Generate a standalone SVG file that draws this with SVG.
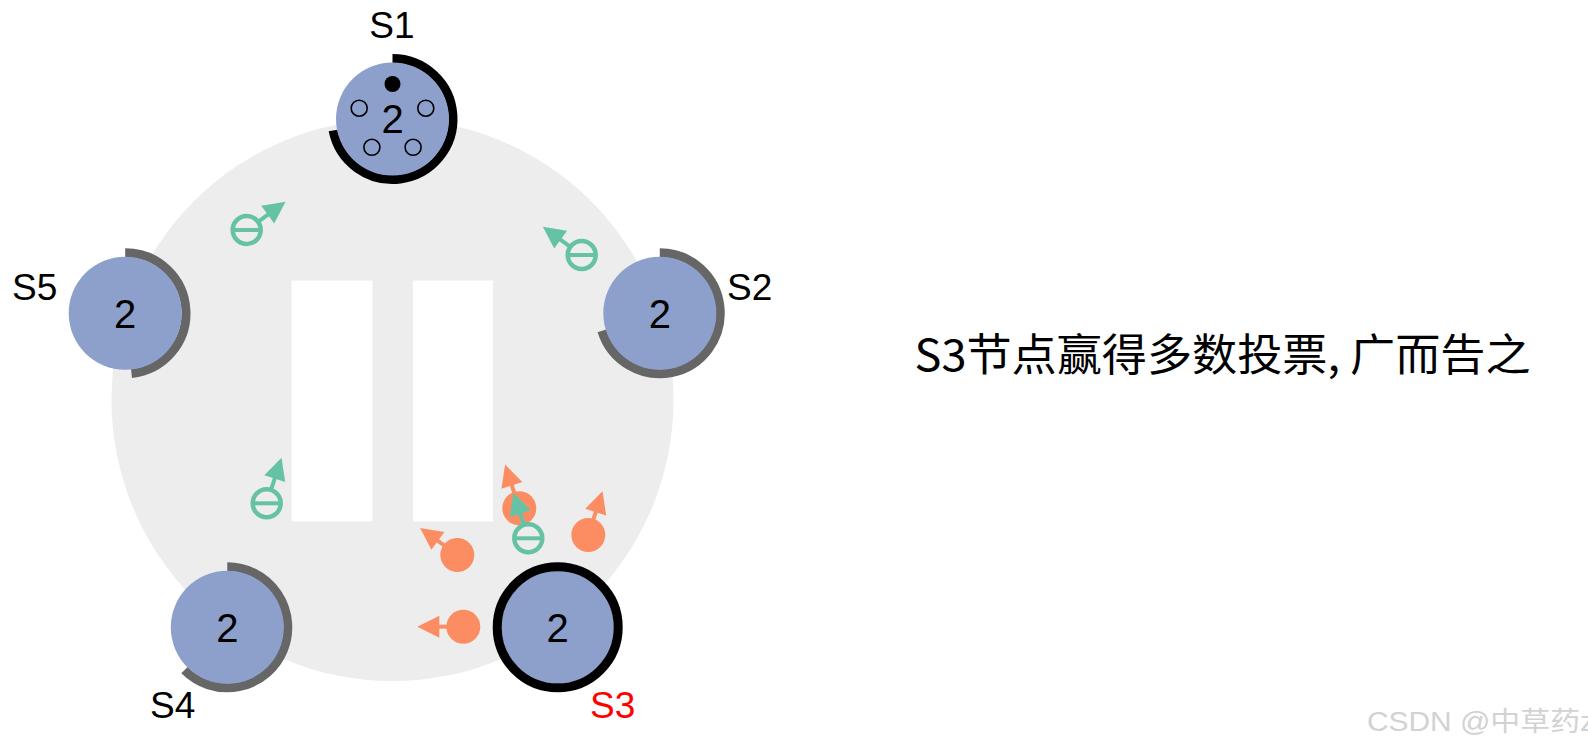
<svg xmlns="http://www.w3.org/2000/svg" xmlns:xlink="http://www.w3.org/1999/xlink" width="1588" height="749" viewBox="0 0 1588 749">
<style>
.node{fill:#8da0cb}
.arc{fill:none;stroke:#666;stroke-width:9}
.arcb{fill:none;stroke:#000;stroke-width:9}
.num{font-family:"Liberation Sans",Arial,sans-serif;font-size:40px;fill:#000;text-anchor:middle}
.lbl{font-family:"Liberation Sans",Arial,sans-serif;font-size:37px;fill:#000}
.vote{fill:none;stroke:#000;stroke-width:1.6}
.gc{fill:none;stroke:#66c2a5;stroke-width:4.5}
.gl{stroke:#66c2a5;stroke-width:4}
.oc{fill:#fc8d62}
</style>
<defs>
<g id="arrG"><line x1="14" y1="0" x2="28" y2="0" stroke="#66c2a5" stroke-width="4"/><polygon points="26,-11 48,0 26,11" fill="#66c2a5"/></g>
<g id="arrO"><line x1="0" y1="0" x2="26" y2="0" stroke="#fc8d62" stroke-width="4"/><polygon points="24,-11 46,0 24,11" fill="#fc8d62"/></g>
</defs>
<rect width="1588" height="749" fill="#fff"/>
<g id="ring">
<circle cx="392.5" cy="400" r="281" fill="#ededed"/>
<rect x="291.5" y="280.5" width="81" height="241" fill="#fff"/>
<rect x="413" y="280.5" width="80" height="241" fill="#fff"/>
</g>
<g id="S1">
<path class="arcb" d="M392.5,58.5 A60.5,60.5 0 1 1 333.1,130.5"/>
<circle class="node" cx="392.5" cy="119" r="56.5"/>
<circle cx="392.5" cy="84" r="8" fill="#000"/>
<circle class="vote" cx="425.8" cy="108.2" r="8"/>
<circle class="vote" cx="413.1" cy="147.3" r="8"/>
<circle class="vote" cx="371.9" cy="147.3" r="8"/>
<circle class="vote" cx="359.2" cy="108.2" r="8"/>
<text class="num" x="392.5" y="133">2</text>
<text class="lbl" x="392" y="38" text-anchor="middle">S1</text>
</g>
<g id="S2">
<path class="arc" d="M659.8,252.7 A60.5,60.5 0 1 1 601.9,330.9"/>
<circle class="node" cx="659.8" cy="313.2" r="56.5"/>
<text class="num" x="659.8" y="327.5">2</text>
<text class="lbl" x="727" y="300">S2</text>
</g>
<g id="S3">
<circle class="node" cx="557.7" cy="627.3" r="56.5"/>
<circle cx="557.7" cy="627.3" r="60.5" fill="none" stroke="#000" stroke-width="9"/>
<text class="num" x="557.7" y="641.6">2</text>
<text class="lbl" x="590" y="718" style="fill:#ff0000">S3</text>
</g>
<g id="S4">
<path class="arc" d="M227.3,566.8 A60.5,60.5 0 1 1 184.5,670.1"/>
<circle class="node" cx="227.3" cy="627.3" r="56.5"/>
<text class="num" x="227.3" y="641.6">2</text>
<text class="lbl" x="150" y="718">S4</text>
</g>
<g id="S5">
<path class="arc" d="M125.2,252.7 A60.5,60.5 0 0 1 131.5,373.4"/>
<circle class="node" cx="125.2" cy="313.2" r="56.5"/>
<text class="num" x="125.2" y="327.5">2</text>
<text class="lbl" x="12" y="300">S5</text>
</g>
<g id="messages">
<g id="m1"><use xlink:href="#arrG" href="#arrG" transform="translate(246.7,230) rotate(-36)"/><circle class="gc" cx="246.7" cy="230" r="14"/><line class="gl" x1="232.7" y1="230" x2="260.7" y2="230"/></g>
<g id="m2"><use xlink:href="#arrG" href="#arrG" transform="translate(581.7,255) rotate(216)"/><circle class="gc" cx="581.7" cy="255" r="14"/><line class="gl" x1="567.7" y1="255" x2="595.7" y2="255"/></g>
<g id="m3"><use xlink:href="#arrG" href="#arrG" transform="translate(266.7,503.3) rotate(-72)"/><circle class="gc" cx="266.7" cy="503.3" r="14"/><line class="gl" x1="252.7" y1="503.3" x2="280.7" y2="503.3"/></g>
<g id="m4"><use xlink:href="#arrO" href="#arrO" transform="translate(457.3,555) rotate(216)"/><circle class="oc" cx="457.3" cy="555" r="17"/></g>
<g id="m5"><use xlink:href="#arrO" href="#arrO" transform="translate(519.3,508.3) rotate(252)"/><circle class="oc" cx="519.3" cy="508.3" r="17"/></g>
<g id="m6"><use xlink:href="#arrO" href="#arrO" transform="translate(588.3,535) rotate(288)"/><circle class="oc" cx="588.3" cy="535" r="17"/></g>
<g id="m7"><use xlink:href="#arrO" href="#arrO" transform="translate(463.3,626.7) rotate(180)"/><circle class="oc" cx="463.3" cy="626.7" r="17"/></g>
<g id="m8"><use xlink:href="#arrG" href="#arrG" transform="translate(528.3,538.3) rotate(252)"/><circle class="gc" cx="528.3" cy="538.3" r="14"/><line class="gl" x1="514.3" y1="538.3" x2="542.3" y2="538.3"/></g>
</g>
<g id="caption">
<text x="914.5" y="371" font-family="'Noto Sans CJK SC','Microsoft YaHei',sans-serif" font-size="44" fill="#000" textLength="616" lengthAdjust="spacingAndGlyphs">S3节点赢得多数投票, 广而告之</text>
</g>
<g id="watermark">
<text x="1367" y="731" font-family="'Liberation Sans','Noto Sans CJK SC',sans-serif" font-size="27" fill="#d2d2d2" textLength="228" lengthAdjust="spacingAndGlyphs">CSDN @中草药z</text>
</g>
</svg>
